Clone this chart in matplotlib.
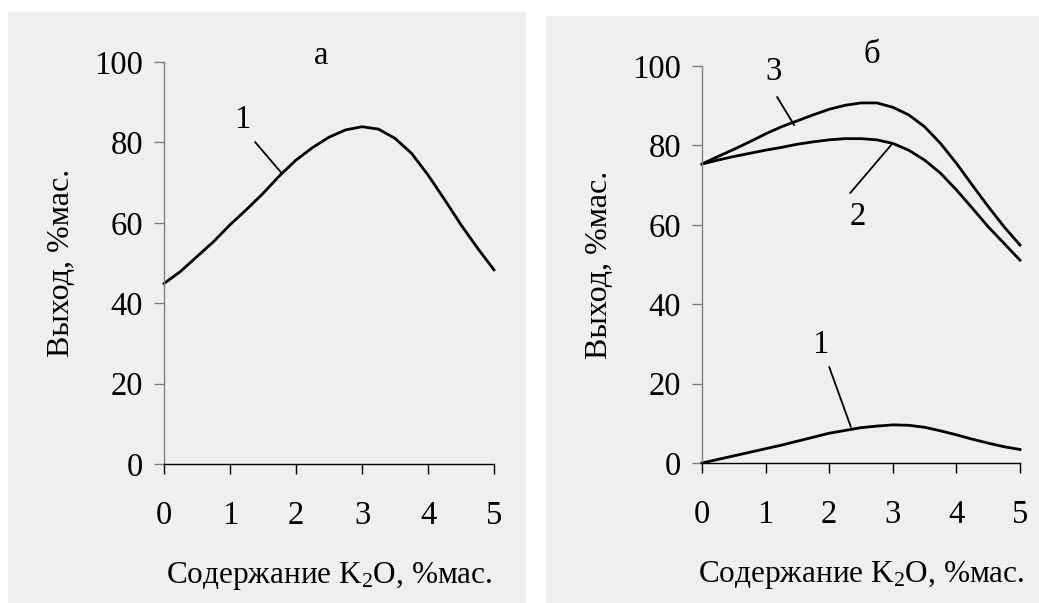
import matplotlib.pyplot as plt
from matplotlib.patches import Rectangle

plt.rcParams['font.family'] = ['Liberation Serif', 'DejaVu Serif']
plt.rcParams['mathtext.fontset'] = 'custom'
plt.rcParams['mathtext.rm'] = 'Liberation Serif'
plt.rcParams['mathtext.it'] = 'Liberation Serif:italic'

k2o = [0, 0.25, 0.5, 0.75, 1, 1.25, 1.5, 1.75, 2, 2.25, 2.5,
       2.75, 3, 3.25, 3.5, 3.75, 4, 4.25, 4.5, 4.75, 5]

# панель а
a_curve1 = [44.9, 47.9, 51.6, 55.3, 59.5, 63.3, 67.3, 71.7, 75.6, 78.7, 81.3,
            83.1, 83.9, 83.3, 81.0, 77.3, 71.9, 65.8, 59.5, 53.7, 48.3]

# панель б
b_curve1 = [0, 0.9, 1.8, 2.7, 3.6, 4.5, 5.5, 6.5, 7.5, 8.2, 8.9,
            9.3, 9.6, 9.5, 9.0, 8.1, 7.1, 6.0, 5.0, 4.1, 3.4]
b_curve2 = [75.3, 76.3, 77.2, 78.0, 78.8, 79.5, 80.3, 80.9, 81.4, 81.7, 81.7,
            81.4, 80.5, 78.8, 76.3, 73.0, 68.8, 64.2, 59.5, 55.3, 51.1]
b_curve3 = [75.3, 77.2, 79.0, 80.9, 82.9, 84.7, 86.2, 87.7, 89.1, 90.1, 90.7,
            90.7, 89.6, 87.7, 84.7, 80.5, 75.5, 70.0, 64.6, 59.5, 54.9]

xticks = [0, 1, 2, 3, 4, 5]
yticks = [0, 20, 40, 60, 80, 100]

xlabel = 'Содержание K$_{\\mathrm{2}}$O, %мас.'
ylabel = 'Выход, %мас.'

W, H = 1039, 603
fig = plt.figure(figsize=(W / 100, H / 100), dpi=100)
fig.patch.set_facecolor('white')

# серые подложки панелей
for (x0, y0, x1, y1) in [(8, 12, 526, 603), (546, 16, 1039, 603)]:
    fig.patches.append(Rectangle((x0 / W, 1 - y1 / H), (x1 - x0) / W, (y1 - y0) / H,
                                 transform=fig.transFigure, facecolor='#efefef',
                                 edgecolor='none', zorder=-10))

ax1 = fig.add_axes([164 / W, 1 - 464 / H, 330 / W, 402 / H])
ax2 = fig.add_axes([702 / W, 1 - 463 / H, 318 / W, 397 / H])


def style(ax):
    ax.set_facecolor('none')
    ax.set_xlim(0, 5)
    ax.set_ylim(0, 100)
    ax.set_xticks(xticks)
    ax.set_yticks(yticks)
    ax.spines['top'].set_visible(False)
    ax.spines['right'].set_visible(False)
    ax.spines['left'].set_color('#808080')
    ax.spines['bottom'].set_color('black')
    ax.spines['left'].set_linewidth(1.0)
    ax.spines['bottom'].set_linewidth(1.0)
    ax.tick_params(axis='y', direction='out', length=7, width=1, color='#808080',
                   labelsize=23.5, pad=8)
    ax.tick_params(axis='x', direction='out', length=7, width=1, color='black',
                   labelsize=23.5, pad=19)
    ax.set_xlabel(xlabel, fontsize=22.5, labelpad=21)
    ax.set_ylabel(ylabel, fontsize=23, labelpad=13)


def leader(ax, text, txy, start, end):
    ax.annotate('', xy=end, xytext=start,
                arrowprops=dict(arrowstyle='-', lw=1.3, color='black',
                                shrinkA=0, shrinkB=0))
    ax.text(txy[0], txy[1], text, fontsize=23.5, ha='center', va='center')


style(ax1)
ax1.plot(k2o, a_curve1, color='black', lw=2.0, clip_on=False)
ax1.text(2.38, 101.5, 'а', fontsize=23.5, ha='center', va='center', clip_on=False)
leader(ax1, '1', (1.18, 85.6), (1.38, 80.1), (1.77, 72.6))

style(ax2)
for ys in (b_curve1, b_curve2, b_curve3):
    ax2.plot(k2o, ys, color='black', lw=2.0, clip_on=False)
ax2.text(2.67, 102.8, 'б', fontsize=23.5, ha='center', va='center', clip_on=False)
leader(ax2, '3', (1.13, 98.5), (1.18, 92.2), (1.45, 85.1))
leader(ax2, '2', (2.45, 62), (2.33, 68), (2.99, 80.4))
leader(ax2, '1', (1.86, 29.7), (2.0, 24.2), (2.34, 9.1))

fig.savefig('out.png', dpi=100)
